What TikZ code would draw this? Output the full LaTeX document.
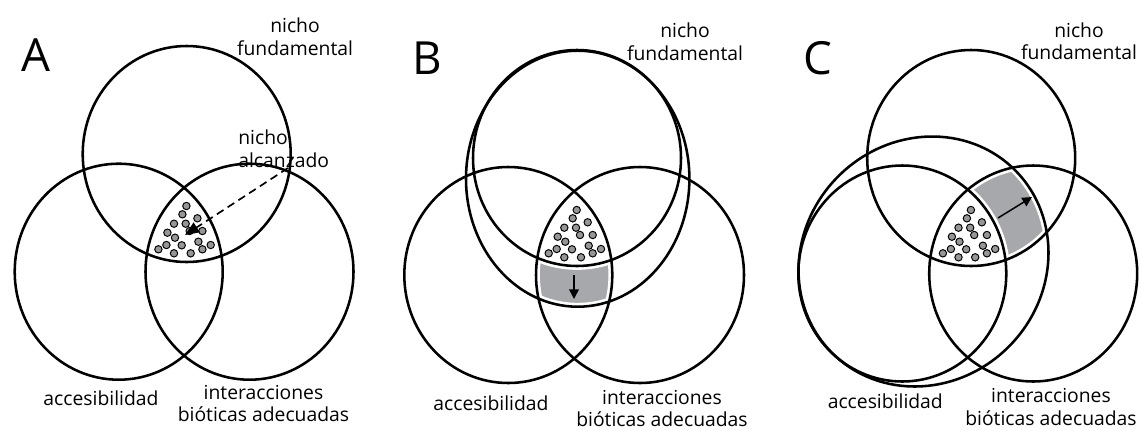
\documentclass[tikz,border=0pt]{standalone}
\usepackage{fontspec}
\setmainfont{Open Sans}
\usetikzlibrary{arrows.meta}
\definecolor{zonegray}{RGB}{167,168,171}
\definecolor{seedgray}{RGB}{150,150,152}
\tikzset{
	rad/.style={x radius=104, y radius=108},
	circ/.style={line width=1.45pt},
	halo/.style={white, line width=4.4pt},
	seed/.style={draw=black, line width=0.55pt, fill=seedgray},
	lbl/.style={inner sep=0pt, font=\fontsize{11}{12.6}\selectfont, align=center, anchor=base},
	letter/.style={inner sep=0pt, font=\fontsize{26}{30}\selectfont, anchor=base west},
	move/.style={line width=0.85pt, -{Triangle[length=5.5pt, width=5.5pt]}},
	reach/.style={line width=0.95pt, dash pattern=on 4.5pt off 2.8pt, -{Triangle[length=8pt, width=6.5pt]}}
}

\begin{document}
\begin{tikzpicture}[x=0.02cm, y=-0.02cm]
	\useasboundingbox (0, 0) rectangle (1142, 430);
	
	% gray zones
	\begin{scope}
		\clip (508.3, 275) ellipse [rad];
		\clip (640, 275) ellipse [rad];
		\clip (577.7, 178.7) ellipse [x radius=111.7, y radius=128];
		\fill [zonegray] (460, 150) rectangle (700, 320);
		\fill [white] (577, 158) ellipse [rad];
	\end{scope}
	\begin{scope}
		\clip (971.2, 158) ellipse [rad];
		\clip (1033.2, 273.5) ellipse [rad];
		\clip [rotate around={45:(923.5, 261.5)}] (923.5, 261.5) ellipse [x radius=129.3, y radius=120.5];
		\fill [zonegray] (900, 120) rectangle (1100, 300);
		\fill [white] (902.3, 273.5) ellipse [rad];
	\end{scope}
	
	\draw [halo] (577, 158) ellipse [rad];
	\draw [halo] (508.3, 275) ellipse [rad];
	\draw [halo] (640, 275) ellipse [rad];
	\draw [halo] (577.7, 178.7) ellipse [x radius=111.7, y radius=128];
	\draw [halo] (971.2, 158) ellipse [rad];
	\draw [halo] (902.3, 273.5) ellipse [rad];
	\draw [halo] (1033.2, 273.5) ellipse [rad];
	\draw [halo, rotate around={45:(923.5, 261.5)}] (923.5, 261.5) ellipse [x radius=129.3, y radius=120.5];
	
	% A
	\draw [circ] (186.7, 154) ellipse [rad];
	\draw [circ] (118.7, 271.7) ellipse [rad];
	\draw [circ] (249.5, 271.7) ellipse [rad];
	
	% B
	\draw [circ] (577, 158) ellipse [rad];
	\draw [circ] (577.7, 178.7) ellipse [x radius=111.7, y radius=128];
	\draw [circ] (508.3, 275) ellipse [rad];
	\draw [circ] (640, 275) ellipse [rad];
	
	% C
	\draw [circ] (971.2, 158) ellipse [rad];
	\draw [circ] (902.3, 273.5) ellipse [rad];
	\draw [circ, rotate around={45:(923.5, 261.5)}] (923.5, 261.5) ellipse [x radius=129.3, y radius=120.5];
	\draw [circ] (1033.2, 273.5) ellipse [rad];
	
	\foreach \cx/\cy in {186.7/154, 577/158, 971.2/158} {
		\foreach \dx/\dy in {-0.3/52, -4.3/60.3, 10.7/64.3, -12.7/69.7, -1/69.7, 3/77, 15.7/77, -19.3/78.7, -11.7/83.7, 11.7/87.7, 24/91, -28.3/95.3, -20.3/91, -5/91.3, 15.7/95.3, -12.7/99.3, 4/99.3} {
			\draw [seed] (\cx + \dx, \cy + \dy) circle [radius=3.7];
		}
	}
	
	\coordinate (reachA) at (288, 168);
	\coordinate (coreA) at (185, 235);
	\draw [reach] (reachA) -- (coreA);
	\coordinate (fromB) at (574, 275);
	\coordinate (toB) at (574, 299);
	\draw [move] (fromB) -- (toB);
	\coordinate (fromC) at (998, 218);
	\coordinate (toC) at (1032, 197);
	\draw [move] (fromC) -- (toC);
	
	\node [letter] (labA) at (21, 71) {A};
	\node [lbl] (fundA) at (295, 55) {nicho\\fundamental};
	\node [lbl, align=left, anchor=base west] (realA) at (238, 167) {nicho\\alcanzado};
	\node [lbl] (accA) at (101, 405) {accesibilidad};
	\node [lbl] (bioA) at (263.5, 421.7) {interacciones\\bióticas adecuadas};
	
	\node [letter] (labB) at (412, 74) {B};
	\node [lbl] (fundB) at (685, 60) {nicho\\fundamental};
	\node [lbl] (accB) at (491, 410) {accesibilidad};
	\node [lbl] (bioB) at (662, 426.7) {interacciones\\bióticas adecuadas};
	
	\node [letter] (labC) at (803, 74) {C};
	\node [lbl] (fundC) at (1079, 59.3) {nicho\\fundamental};
	\node [lbl] (accC) at (885.3, 408.3) {accesibilidad};
	\node [lbl] (bioC) at (1051, 425) {interacciones\\bióticas adecuadas};
\end{tikzpicture}
\end{document}
